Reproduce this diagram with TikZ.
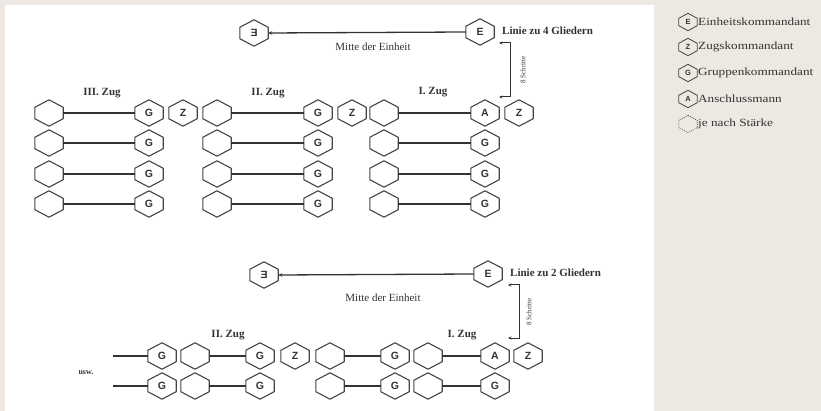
\documentclass[tikz,border=0pt]{standalone}
\usepackage{fontspec}
\setmainfont{Liberation Serif}
\setsansfont{Liberation Sans}
\newfontfamily\legfont[FakeStretch=1.2]{Liberation Serif}
\usepackage{graphicx}
\usetikzlibrary{arrows.meta}
\definecolor{bg}{HTML}{EDE9E2}
\definecolor{ink}{HTML}{333333}
\definecolor{hexc}{HTML}{444444}
\tikzset{
 hxbox/.style={minimum width=28pt,minimum height=26pt,inner sep=0pt,font=\sffamily\bfseries\fontsize{10.5}{10.5}\selectfont,text=ink},
 hxsmall/.style={minimum width=18pt,minimum height=17pt,inner sep=0pt,font=\sffamily\bfseries\fontsize{7.5}{7.5}\selectfont,text=ink},
 hxline/.style={draw=hexc,line width=1.1pt,line join=round},
 conn/.style={draw=ink,line width=1.8pt},
 arr/.style={draw=ink,line width=1.3pt},
 zug/.style={font=\bfseries\fontsize{11}{11}\selectfont,text=ink},
 linie/.style={font=\bfseries\fontsize{11}{11}\selectfont,text=ink,anchor=west,inner sep=0pt},
 mitte/.style={font=\fontsize{11}{11}\selectfont,text=ink},
 schr/.style={font=\fontsize{7}{7}\selectfont,text=ink,rotate=90},
 legtext/.style={font=\legfont\fontsize{11}{11}\selectfont,text=ink,anchor=west,inner sep=0pt},
 tip/.style={-{Stealth[length=4pt,width=3.5pt]}},
 tips/.style={{Stealth[length=3.5pt,width=3pt]}-{Stealth[length=3.5pt,width=3pt]}}
}
\newcommand\hexnode[4][7.5pt]{%
 \node[hxbox] (#2) at (#3) {#4};
 \draw[hxline] (#2.north) -- ([yshift=-#1]#2.north east) -- ([yshift=#1]#2.south east) -- (#2.south) -- ([yshift=#1]#2.south west) -- ([yshift=-#1]#2.north west) -- cycle;}
\newcommand\leghex[4][]{%
 \node[hxsmall] (#2) at (#3) {#4};
 \draw[hxline,line width=0.8pt,#1] (#2.north) -- ([yshift=-5pt]#2.north east) -- ([yshift=5pt]#2.south east) -- (#2.south) -- ([yshift=5pt]#2.south west) -- ([yshift=-5pt]#2.north west) -- cycle;}
\begin{document}
\begin{tikzpicture}[x=1pt,y=-1pt]
\fill[bg] (0,0) rectangle (821,411);
\fill[white] (5,5) rectangle (654,411);
\useasboundingbox (0,0) rectangle (821,411);

% ===== top: Linie zu 4 Gliedern =====
\hexnode{tm}{254,33}{\reflectbox{E}}
\hexnode{te}{480,32}{E}
\draw[arr,tip] (te.west) -- (tm.east);
\node[linie] (tlin) at (502,31) {Linie zu 4 Gliedern};
\node[mitte] (tmit) at (373,47) {Mitte der Einheit};
\coordinate (tbt) at (499,43);
\coordinate (tbb) at (499,97);
\draw[arr,line width=1pt,tips] (tbt) -- ++(11,0) |- (tbb);
\node[schr] (tsch) at (523,70) {8 Schritte};

\node[zug] (z3) at (102,93) {III. Zug};
\node[zug] (z2) at (268,93) {II. Zug};
\node[zug] (z1) at (433,92) {I. Zug};

\foreach \r/\y in {1/113,2/143,3/174,4/204}{
  \hexnode{a\r}{49,\y}{}
  \hexnode{b\r}{149,\y}{G}
  \draw[conn] (a\r.east) -- (b\r.west);
  \hexnode{c\r}{217,\y}{}
  \hexnode{d\r}{318,\y}{G}
  \draw[conn] (c\r.east) -- (d\r.west);
  \hexnode{e\r}{384,\y}{}
}
\hexnode{f1}{485,113}{A}
\foreach \r/\y in {2/143,3/174,4/204}{\hexnode{f\r}{485,\y}{G}}
\foreach \r in {1,2,3,4}{\draw[conn] (e\r.east) -- (f\r.west);}
\hexnode{tz3}{183,113}{Z}
\hexnode{tz2}{352,113}{Z}
\hexnode{tz1}{519,113}{Z}

% ===== bottom: Linie zu 2 Gliedern =====
\hexnode{bm}{264,275}{\reflectbox{E}}
\hexnode{be}{488,274}{E}
\draw[arr,tip] (be.west) -- (bm.east);
\node[linie] (blin) at (510,273) {Linie zu 2 Gliedern};
\node[mitte] (bmit) at (383,298) {Mitte der Einheit};
\coordinate (bbt) at (508,285);
\coordinate (bbb) at (508,338);
\draw[arr,line width=1pt,tips] (bbt) -- ++(11,0) |- (bbb);
\node[schr] (bsch) at (529,312) {8 Schritte};

\node[zug] (y2) at (228,335) {II. Zug};
\node[zug] (y1) at (462,335) {I. Zug};
\node[font=\bfseries\fontsize{8}{8}\selectfont,text=ink] (usw) at (86,373) {usw.};

\foreach \r/\y in {1/356,2/386}{
  \coordinate (u\r) at (113,\y);
  \hexnode{p\r}{162,\y}{G}
  \draw[conn] (u\r) -- (p\r.west);
  \hexnode{q\r}{195,\y}{}
  \hexnode{s\r}{260,\y}{G}
  \draw[conn] (q\r.east) -- (s\r.west);
  \hexnode{v\r}{330,\y}{}
  \hexnode{w\r}{395,\y}{G}
  \draw[conn] (v\r.east) -- (w\r.west);
  \hexnode{x\r}{428,\y}{}
}
\hexnode{k1}{495,356}{A}
\hexnode{k2}{495,386}{G}
\draw[conn] (x1.east) -- (k1.west);
\draw[conn] (x2.east) -- (k2.west);
\hexnode{bz2}{295,356}{Z}
\hexnode{bz1}{528,356}{Z}

% ===== legend =====
\leghex{lE}{688,22}{E}
\node[legtext] (tE) at (698,22) {Einheitskommandant};
\leghex{lZ}{688,47}{Z}
\node[legtext] (tZ) at (698,47) {Zugskommandant};
\leghex{lG}{688,73}{G}
\node[legtext] (tG) at (698,73) {Gruppenkommandant};
\leghex{lA}{688,99}{A}
\node[legtext] (tA) at (698,99) {Anschlussmann};
\leghex[dash pattern=on 1pt off 1pt,line width=0.6pt]{lD}{688,124}{}
\node[legtext] (tD) at (698,124) {je nach Stärke};
\end{tikzpicture}
\end{document}
